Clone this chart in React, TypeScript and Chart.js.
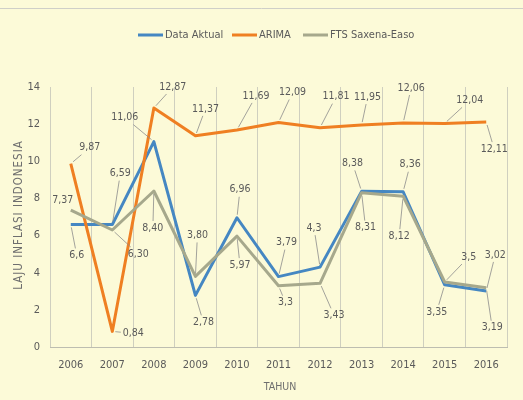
import React, { useEffect, useRef } from "react";
import { Chart, registerables } from "chart.js";

Chart.register(...registerables);

// ---- data ----
const years = ["2006", "2007", "2008", "2009", "2010", "2011", "2012", "2013", "2014", "2015", "2016"];
const dataAktual = [6.6, 6.59, 11.06, 2.78, 6.96, 3.79, 4.3, 8.38, 8.36, 3.35, 3.02];
const arima = [9.87, 0.84, 12.87, 11.37, 11.69, 12.09, 11.81, 11.95, 12.06, 12.04, 12.11];
const ftsSaxenaEaso = [7.37, 6.3, 8.4, 3.8, 5.97, 3.3, 3.43, 8.31, 8.12, 3.5, 3.19];
const ftsLabelDecimals = [2, 2, 2, 2, 2, 1, 2, 2, 2, 1, 2];
const yTickValues = [0, 2, 4, 6, 8, 10, 12, 14];
const seriesNames = ["Data Aktual", "ARIMA", "FTS Saxena-Easo"];

// ---- style ----
const COLORS = ["#4587c2", "#ef7f22", "#a6a88c"];
const FONT = "'Liberation Sans Narrow', 'DejaVu Sans Condensed', 'Liberation Sans', sans-serif";
const TEXT = "#5a5a5a";
const LEGEND_X = [138, 232, 303];
// label offsets (px) relative to each point
const aktualOffsets = [[6, 31], [8, -51], [-29, -24], [8, 27], [3, -28], [8, -34], [-6, -39], [-9, -28], [7, -27], [-8, 27], [9, -36]];
const arimaOffsets = [[19, -16], [21, 2], [19, -21], [10, -27], [19, -34], [14, -30], [16, -31], [6, -28], [8, -35], [25, -23], [8, 27]];
const ftsOffsets = [[-8, -10], [26, 24], [-1, 37], [2, -41], [3, 29], [7, 17], [14, 32], [4, 35], [-4, 40], [24, -25], [6, 40]];

const fmt = (v: number, dec?: number) =>
  (dec === undefined ? String(v) : v.toFixed(dec)).replace(".", ",");

const labelTexts = [
  dataAktual.map((v) => fmt(v)),
  arima.map((v) => fmt(v, 2)),
  ftsSaxenaEaso.map((v, i) => fmt(v, ftsLabelDecimals[i])),
];
const labelOffsets = [aktualOffsets, arimaOffsets, ftsOffsets];

const decorPlugin = {
  id: "decor",
  beforeDraw(chart: any) {
    const { ctx, width, height } = chart;
    ctx.save();
    ctx.fillStyle = "#fcfad8";
    ctx.fillRect(0, 0, width, height);
    ctx.strokeStyle = "#cfcfc8";
    ctx.lineWidth = 1;
    ctx.beginPath();
    ctx.moveTo(0, 8.5);
    ctx.lineTo(width, 8.5);
    ctx.stroke();
    ctx.restore();
  },
  afterDatasetsDraw(chart: any) {
    const { ctx } = chart;
    ctx.save();
    ctx.font = `10.5px ${FONT}`;
    ctx.textAlign = "center";
    ctx.textBaseline = "middle";
    chart.data.datasets.forEach((ds: any, di: number) => {
      const meta = chart.getDatasetMeta(di);
      meta.data.forEach((pt: any, i: number) => {
        const [dx, dy] = labelOffsets[di][i];
        const text = labelTexts[di][i];
        const lx = pt.x + dx;
        const ly = pt.y + dy;
        const w = ctx.measureText(text).width;
        const dist = Math.hypot(dx, dy);
        if (dist > 16) {
          const ux = -dx / dist;
          const uy = -dy / dist;
          const hw = w / 2 + 2;
          const hh = 7;
          const tEdge = Math.min(
            Math.abs(ux) > 1e-6 ? hw / Math.abs(ux) : 1e9,
            Math.abs(uy) > 1e-6 ? hh / Math.abs(uy) : 1e9
          );
          const sx = lx + ux * tEdge;
          const sy = ly + uy * tEdge;
          const ex = pt.x - ux * 3;
          const ey = pt.y - uy * 3;
          if (Math.hypot(ex - sx, ey - sy) > 3 && tEdge < dist - 3) {
            ctx.strokeStyle = "#8c8c8c";
            ctx.lineWidth = 0.8;
            ctx.beginPath();
            ctx.moveTo(sx, sy);
            ctx.lineTo(ex, ey);
            ctx.stroke();
          }
        }
        ctx.fillStyle = TEXT;
        ctx.fillText(text, lx, ly);
      });
    });
    ctx.restore();
  },
  afterDraw(chart: any) {
    const { ctx } = chart;
    ctx.save();
    // legend
    ctx.font = `11px ${FONT}`;
    ctx.textBaseline = "middle";
    ctx.textAlign = "left";
    const sw = 25;
    const ly = 35;
    seriesNames.forEach((n, i) => {
      const x = LEGEND_X[i];
      ctx.strokeStyle = COLORS[i];
      ctx.lineWidth = 3;
      ctx.beginPath();
      ctx.moveTo(x, ly);
      ctx.lineTo(x + sw, ly);
      ctx.stroke();
      ctx.fillStyle = TEXT;
      ctx.fillText(n, x + sw + 2, ly);
    });
    // axis titles
    ctx.fillStyle = "#6e6e6e";
    ctx.font = `10.5px ${FONT}`;
    ctx.textAlign = "center";
    ctx.fillText("TAHUN", 280, 387);
    ctx.translate(19, 215);
    ctx.rotate(-Math.PI / 2);
    ctx.font = `11.5px ${FONT}`;
    (ctx as any).letterSpacing = "1px";
    ctx.fillText("LAJU INFLASI INDONESIA", 0, 0);
    ctx.restore();
  },
};

export default function App() {
  const ref = useRef<HTMLCanvasElement | null>(null);
  useEffect(() => {
    document.body.style.margin = "0";
    if (!ref.current) return;
    const series = [dataAktual, arima, ftsSaxenaEaso];
    const chart = new Chart(ref.current, {
      type: "line",
      data: {
        labels: years,
        datasets: series.map((d, i) => ({
          label: seriesNames[i],
          data: d,
          borderColor: COLORS[i],
          backgroundColor: COLORS[i],
          borderWidth: 3,
          pointRadius: 0,
          tension: 0,
          borderJoinStyle: "round" as const,
          order: 3 - i,
        })),
      },
      options: {
        responsive: false,
        animation: false,
        layout: { padding: { top: 87, right: 16, left: 0, bottom: 0 } },
        plugins: { legend: { display: false }, tooltip: { enabled: false }, title: { display: false } },
        scales: {
          x: {
            type: "category",
            offset: true,
            grid: { offset: true, color: "#cfcfbf", drawTicks: false, lineWidth: 1 },
            border: { display: true, color: "#bdbdb0" },
            ticks: { color: TEXT, font: { size: 11, family: FONT }, padding: 12, maxRotation: 0 },
            afterFit: (s: any) => {
              s.height = 53;
            },
          },
          y: {
            min: 0,
            max: 14,
            afterBuildTicks: (s: any) => {
              s.ticks = yTickValues.map((v) => ({ value: v }));
            },
            grid: { display: false, drawTicks: false },
            border: { display: false },
            ticks: { color: TEXT, font: { size: 11, family: FONT }, padding: 10 },
            afterFit: (s: any) => {
              s.width = 50;
            },
          },
        },
      },
      plugins: [decorPlugin],
    });
    return () => chart.destroy();
  }, []);
  return <canvas ref={ref} width={523} height={400} style={{ display: "block" }} />;
}
